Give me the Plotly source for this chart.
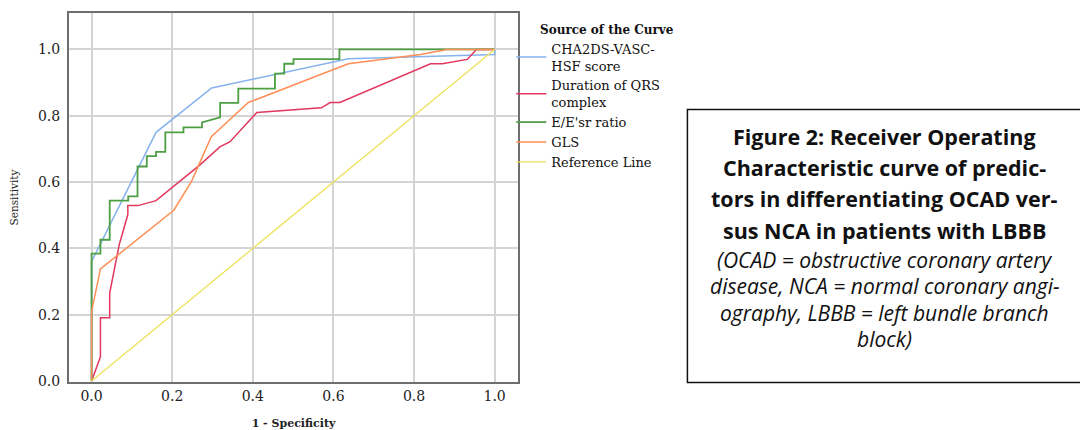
import plotly.graph_objects as go

# ---------------- data ----------------
series_names = ["CHA2DS-VASC-<br>HSF score", "Duration of QRS<br>complex", "E/E'sr ratio", "GLS", "Reference Line"]

cha_fpr = [0.0, 0.0, 0.160, 0.298, 0.637, 1.0, 1.0]
cha_tpr = [0.0, 0.360, 0.750, 0.884, 0.972, 0.985, 1.0]

qrs_fpr = [0.0, 0.022, 0.022, 0.045, 0.045, 0.069, 0.090, 0.090, 0.115, 0.160, 0.269, 0.319,
           0.343, 0.410, 0.570, 0.592, 0.616, 0.841, 0.870, 0.932, 0.955, 1.0]
qrs_tpr = [0.0, 0.073, 0.191, 0.191, 0.266, 0.413, 0.502, 0.529, 0.529, 0.544, 0.652, 0.707,
           0.721, 0.810, 0.824, 0.840, 0.840, 0.957, 0.957, 0.970, 1.0, 1.0]

ee_fpr = [0.0, 0.0, 0.022, 0.022, 0.045, 0.045, 0.091, 0.091, 0.114, 0.114, 0.137, 0.137,
          0.160, 0.160, 0.183, 0.183, 0.228, 0.228, 0.274, 0.274, 0.319, 0.319, 0.364, 0.364,
          0.455, 0.455, 0.478, 0.478, 0.501, 0.501, 0.615, 0.615, 1.0]
ee_tpr = [0.0, 0.384, 0.384, 0.426, 0.426, 0.544, 0.544, 0.557, 0.557, 0.647, 0.647, 0.678,
          0.678, 0.691, 0.691, 0.750, 0.750, 0.765, 0.765, 0.780, 0.795, 0.839, 0.839, 0.882,
          0.882, 0.927, 0.927, 0.957, 0.957, 0.971, 0.971, 1.0, 1.0]

gls_fpr = [0.0, 0.0, 0.022, 0.204, 0.248, 0.297, 0.389, 0.637, 0.816, 0.882, 1.0]
gls_tpr = [0.0, 0.209, 0.338, 0.515, 0.602, 0.737, 0.840, 0.957, 0.985, 1.0, 1.0]

ref_fpr = [0.0, 1.0]
ref_tpr = [0.0, 1.0]

tick_vals = [0.0, 0.2, 0.4, 0.6, 0.8, 1.0]

caption_bold = ["Figure 2: Receiver Operating",
                "Characteristic curve of predic-",
                "tors in differentiating OCAD ver-",
                "sus NCA in patients with LBBB"]
caption_italic = ["(OCAD = obstructive coronary artery",
                  "disease, NCA = normal coronary angi-",
                  "ography, LBBB = left bundle branch",
                  "block)"]

# ---------------- figure ----------------
OFF = 8                      # default page body margin
W, H = 1088 - OFF, 430 - OFF
L, R, T, B = 69 - OFF, 517.7 - OFF, 13 - OFF, 382 - OFF


def px_x(p):                 # page pixel -> paper fraction
    return (p - OFF - L) / (R - L)


def px_y(p):
    return (B - (p - OFF)) / (B - T)


colors = ["#86B3EE", "#E2375E", "#4E9E43", "#FF8E55", "#EEE15A"]
widths = [1.5, 1.5, 1.8, 1.5, 1.3]
xs = [cha_fpr, qrs_fpr, ee_fpr, gls_fpr, ref_fpr]
ys = [cha_tpr, qrs_tpr, ee_tpr, gls_tpr, ref_tpr]

fig = go.Figure()
for name, x, y, c, w in zip(series_names, xs, ys, colors, widths):
    fig.add_trace(go.Scatter(x=x, y=y, mode="lines", name=name,
                             line=dict(color=c, width=w)))

serif = "DejaVu Serif"
axis_common = dict(showgrid=True, gridcolor="#D4D4D4", gridwidth=2,
                   zeroline=False, showline=True, mirror=True,
                   linecolor="#6E6E6E", linewidth=2, ticks="",
                   tickvals=tick_vals, tickformat=".1f", automargin=False,
                   tickfont=dict(family=serif, size=14, color="#222"))

fig.update_layout(
    width=W, height=H,
    margin=dict(l=L, r=W - R, t=T, b=H - B, pad=0, autoexpand=False),
    paper_bgcolor="white", plot_bgcolor="white",
    xaxis=dict(range=[-0.056, 1.058], ticklabelstandoff=0,
               title=dict(text="<b>1 - Specificity</b>",
                          font=dict(family=serif, size=11, color="#222"), standoff=17),
               **axis_common),
    yaxis=dict(range=[-0.003, 1.11], ticklabelstandoff=4,
               title=dict(text="Sensitivity",
                          font=dict(family=serif, size=10.5, color="#222"), standoff=20),
               **axis_common),
    legend=dict(x=px_x(511), y=px_y(18), xanchor="left", yanchor="top",
                bgcolor="rgba(0,0,0,0)", font=dict(family=serif, size=13, color="#111"),
                title=dict(text="&nbsp;&nbsp;&nbsp;&nbsp;&nbsp;&nbsp;&nbsp;<b>Source of the Curve</b>",
                           font=dict(family=serif, size=12, color="#111")),
                tracegroupgap=0, itemwidth=30),
    showlegend=True,
)

# caption box
fig.add_shape(type="rect", xref="paper", yref="paper",
              x0=px_x(687), x1=px_x(1100), y0=px_y(382.5), y1=px_y(109.5),
              line=dict(color="#111", width=1.5), fillcolor="rgba(0,0,0,0)")

cx = px_x(884)
bold_y = [136, 167, 198.5, 230]
ital_y = [259.5, 286, 312.5, 339]
for t, yy in zip(caption_bold, bold_y):
    fig.add_annotation(text="<b>" + t + "</b>", xref="paper", yref="paper",
                       x=cx, y=px_y(yy), xanchor="center", yanchor="middle", showarrow=False,
                       font=dict(family="Open Sans", size=21.5, color="#111"))
for t, yy in zip(caption_italic, ital_y):
    fig.add_annotation(text="<i>" + t + "</i>", xref="paper", yref="paper",
                       x=cx, y=px_y(yy), xanchor="center", yanchor="middle", showarrow=False,
                       font=dict(family="Open Sans", size=21, color="#111"))

fig.write_html("out.html")
